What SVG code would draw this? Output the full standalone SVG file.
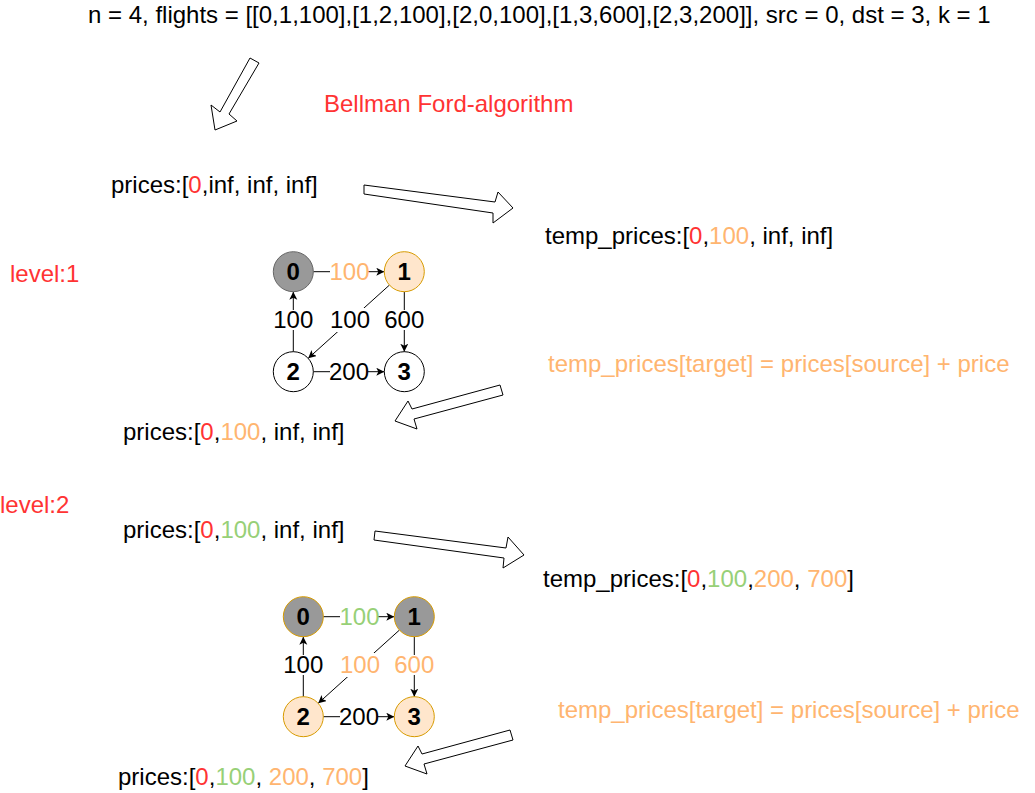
<svg xmlns="http://www.w3.org/2000/svg" width="1035" height="793" viewBox="0 0 1035 793">
<style>
text{font-family:"Liberation Sans",Arial,sans-serif;font-size:24px;fill:#000}
.red{fill:#FF3333}
.org{fill:#FFB570}
.grn{fill:#97D077}
.nl{font-size:24px;font-weight:bold;text-anchor:middle}
.el{text-anchor:middle}
.bg{fill:#fff}
.blk{fill:#fff;stroke:#000;stroke-width:1}
.edge{stroke:#000;stroke-width:1;fill:none;marker-end:url(#ah)}
.gray{fill:#999999;stroke:#666666}
.grayo{fill:#999999;stroke:#D79B00}
.peach{fill:#FFE6CC;stroke:#D79B00}
.white{fill:#fff;stroke:#000}
</style>
<defs>
<marker id="ah" markerUnits="userSpaceOnUse" markerWidth="10" markerHeight="10" refX="8" refY="4" orient="auto">
<path d="M0,0 L8,4 L0,8 L2,4 z" fill="#000"/>
</marker>
</defs>

<g id="texts">
<text x="88" y="23">n = 4, flights = [[0,1,100],[1,2,100],[2,0,100],[1,3,600],[2,3,200]], src = 0, dst = 3, k = 1</text>
<text x="324" y="112" class="red">Bellman Ford-algorithm</text>
<text x="111" y="193">prices:[<tspan class="red">0</tspan>,inf, inf, inf]</text>
<text x="545" y="244">temp_prices:[<tspan class="red">0</tspan>,<tspan class="org">100</tspan>, inf, inf]</text>
<text x="10" y="282" class="red">level:1</text>
<text x="548" y="372" class="org">temp_prices[target] = prices[source] + price</text>
<text x="123" y="440">prices:[<tspan class="red">0</tspan>,<tspan class="org">100</tspan>, inf, inf]</text>
<text x="0" y="513" class="red">level:2</text>
<text x="123" y="538">prices:[<tspan class="red">0</tspan>,<tspan class="grn">100</tspan>, inf, inf]</text>
<text x="543" y="587">temp_prices:[<tspan class="red">0</tspan>,<tspan class="grn">100</tspan>,<tspan class="org">200</tspan>, <tspan class="org">700</tspan>]</text>
<text x="558" y="718" class="org">temp_prices[target] = prices[source] + price</text>
<text x="118" y="785">prices:[<tspan class="red">0</tspan>,<tspan class="grn">100</tspan>, <tspan class="org">200</tspan>, <tspan class="org">700</tspan>]</text>
</g>

<g id="big-arrows">
<polygon class="blk" points="250,58 259,63 229,114 237,121 215,130 211,105 220,112"/>
<polygon class="blk" points="364,185 495,202 498,192 513,208 493,223 493,213 364,194"/>
<polygon class="blk" points="500,385 503,395 414,419 417,429 395,421 408,401 412,409"/>
<polygon class="blk" points="375,531 506,548 508,537 524,555 503,568 504,558 374,540"/>
<polygon class="blk" points="510,730 513,740 424,764 427,774 405,766 418,746 422,754"/>
</g>

<g id="connectors">
<line class="edge" x1="313.3" y1="271.7" x2="384.3" y2="271.7"/>
<line class="edge" x1="404.3" y1="291.7" x2="404.3" y2="351.7"/>
<line class="edge" x1="293.3" y1="351.7" x2="293.3" y2="291.7"/>
<line class="edge" x1="389.4" y1="285.1" x2="308.2" y2="358.3"/>
<line class="edge" x1="313.3" y1="371.7" x2="384.3" y2="371.7"/>
<rect class="bg" x="330" y="262" width="38" height="20"/>
<rect class="bg" x="274" y="310" width="38" height="20"/>
<rect class="bg" x="331" y="308" width="38" height="24"/>
<rect class="bg" x="385" y="310" width="38" height="20"/>
<rect class="bg" x="330" y="362" width="38" height="20"/>
<text class="el org" x="349.5" y="280">100</text>
<text class="el" x="293.3" y="328">100</text>
<text class="el" x="350" y="328">100</text>
<text class="el" x="404.3" y="328">600</text>
<text class="el" x="349" y="380">200</text>
<line class="edge" x1="323.3" y1="616.7" x2="394.3" y2="616.7"/>
<line class="edge" x1="414.3" y1="636.7" x2="414.3" y2="696.7"/>
<line class="edge" x1="303.3" y1="696.7" x2="303.3" y2="636.7"/>
<line class="edge" x1="399.4" y1="630.1" x2="318.2" y2="703.3"/>
<line class="edge" x1="323.3" y1="716.7" x2="394.3" y2="716.7"/>
<rect class="bg" x="340" y="607" width="38" height="20"/>
<rect class="bg" x="284" y="655" width="38" height="20"/>
<rect class="bg" x="341" y="653" width="38" height="24"/>
<rect class="bg" x="395" y="655" width="38" height="20"/>
<rect class="bg" x="340" y="707" width="38" height="20"/>
<text class="el grn" x="359.5" y="625">100</text>
<text class="el" x="303.3" y="673">100</text>
<text class="el org" x="360" y="673">100</text>
<text class="el org" x="414.3" y="673">600</text>
<text class="el" x="359" y="725">200</text>
</g>

<g id="l1-n0"><circle class="gray" cx="293.3" cy="271.7" r="20"/><text class="nl" x="293.3" y="280">0</text></g>
<g id="l1-n1"><circle class="peach" cx="404.3" cy="271.7" r="20"/><text class="nl" x="404.3" y="280">1</text></g>
<g id="l1-n2"><circle class="white" cx="293.3" cy="371.7" r="20"/><text class="nl" x="293.3" y="380">2</text></g>
<g id="l1-n3"><circle class="white" cx="404.3" cy="371.7" r="20"/><text class="nl" x="404.3" y="380">3</text></g>

<g id="l2-n0"><circle class="grayo" cx="303.3" cy="616.7" r="20"/><text class="nl" x="303.3" y="625">0</text></g>
<g id="l2-n1"><circle class="grayo" cx="414.3" cy="616.7" r="20"/><text class="nl" x="414.3" y="625">1</text></g>
<g id="l2-n2"><circle class="peach" cx="303.3" cy="716.7" r="20"/><text class="nl" x="303.3" y="725">2</text></g>
<g id="l2-n3"><circle class="peach" cx="414.3" cy="716.7" r="20"/><text class="nl" x="414.3" y="725">3</text></g>
</svg>
